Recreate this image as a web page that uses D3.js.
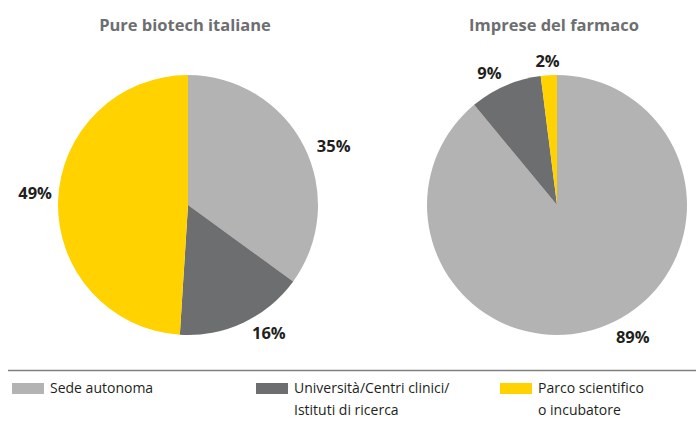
<!DOCTYPE html>
<html>
<head>
<meta charset="utf-8">
<script src="https://cdn.jsdelivr.net/npm/d3@7"></script>
<style>
  body { margin: 0; background: #fff; }
  svg { font-family: "Open Sans", sans-serif; }
</style>
</head>
<body>
<svg id="canvas"></svg>
<script>
let categories = ['Sede autonoma', 'Università/Centri clinici/\nIstituti di ricerca', 'Parco scientifico\no incubatore']
let colors = ['#b3b3b4', '#6d6e70', '#ffd200']

let titles = ['Pure biotech italiane', 'Imprese del farmaco']
let biotechValues = [35, 16, 49]
let farmacoValues = [89, 9, 2]

let width = 696
let height = 436
let radius = 130
let labelRadius = 150

// small hand nudges for the percent labels, as in the original layout
let biotechNudge = [[12, 9], [17, -8], [-3, -8]]
let farmacoNudge = [[25, -10], [-8, 5], [0, 5]]

let canvas = d3.select('#canvas')
canvas.attr('width', width)
canvas.attr('height', height)

let pie = d3.pie().sort(null).value(d => d)
let arc = d3.arc().innerRadius(0).outerRadius(radius)
let labelArc = d3.arc().innerRadius(labelRadius).outerRadius(labelRadius)

let drawPie = (values, nudge, title, cx, cy) => {
    let g = canvas.append('g')
        .attr('transform', 'translate(' + cx + ',' + cy + ')')

    g.selectAll('path')
        .data(pie(values))
        .enter()
        .append('path')
        .attr('d', arc)
        .attr('fill', (d, i) => colors[i])

    g.selectAll('text.pct')
        .data(pie(values))
        .enter()
        .append('text')
        .attr('class', 'pct')
        .attr('x', (d, i) => labelArc.centroid(d)[0] + nudge[i][0])
        .attr('y', (d, i) => labelArc.centroid(d)[1] + nudge[i][1])
        .attr('text-anchor', 'middle')
        .attr('dominant-baseline', 'central')
        .attr('font-size', 16.5)
        .attr('font-weight', 'bold')
        .attr('fill', '#231f20')
        .text(d => d.data + '%')

    canvas.append('text')
        .attr('x', cx - 3)
        .attr('y', 31)
        .attr('text-anchor', 'middle')
        .attr('font-size', 16.5)
        .attr('font-weight', 'bold')
        .attr('fill', '#6d6e70')
        .text(title)
}

drawPie(biotechValues, biotechNudge, titles[0], 188, 205)
drawPie(farmacoValues, farmacoNudge, titles[1], 557, 205)

// legend
canvas.append('line')
    .attr('x1', 8).attr('x2', width)
    .attr('y1', 370.5).attr('y2', 370.5)
    .attr('stroke', '#808080')
    .attr('stroke-width', 1.5)

let legendX = [12, 256, 500]
let legend = canvas.selectAll('g.legend')
    .data(categories)
    .enter()
    .append('g')
    .attr('class', 'legend')
    .attr('transform', (d, i) => 'translate(' + legendX[i] + ',383)')

legend.append('rect')
    .attr('width', 32)
    .attr('height', 11)
    .attr('fill', (d, i) => colors[i])

legend.append('text')
    .attr('x', 38)
    .attr('y', 10)
    .attr('font-size', 14)
    .attr('fill', '#231f20')
    .selectAll('tspan')
    .data(d => d.split('\n'))
    .enter()
    .append('tspan')
    .attr('x', 38)
    .attr('dy', (d, i) => i === 0 ? 0 : 22)
    .text(d => d)
</script>
</body>
</html>
